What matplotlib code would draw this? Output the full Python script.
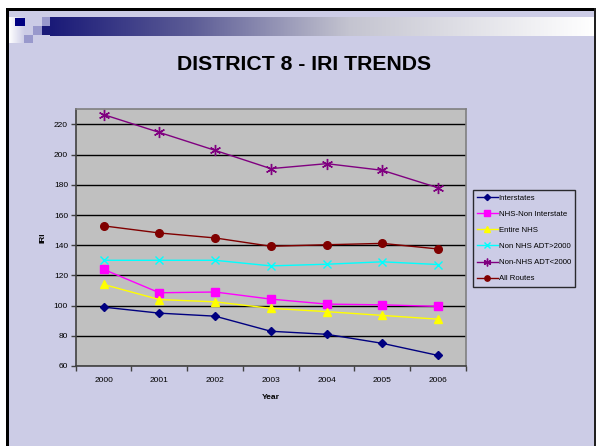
import numpy as np
import matplotlib
matplotlib.use("Agg")
import matplotlib.pyplot as plt
from matplotlib.patches import Rectangle

plt.rcParams['font.family'] = ['Liberation Sans', 'DejaVu Sans']

years = ["2000", "2001", "2002", "2003", "2004", "2005", "2006"]
interstates = [99, 95, 93, 83, 81, 75, 67]
nhs_non_interstate = [124, 108.5, 109, 104.3, 101, 100.5, 99.5]
entire_nhs = [114, 104, 102.5, 98.2, 96, 93.5, 91]
non_nhs_gt2000 = [130, 130, 130, 126.3, 127.4, 129, 127.2]
non_nhs_lt2000 = [226.5, 214.7, 202.8, 190.7, 194, 189.6, 178]
all_routes = [152.8, 148.1, 144.8, 139.3, 140.3, 141.2, 137.5]

series = [
    ("Interstates", interstates, "#000080", "D", 4.5),
    ("NHS-Non Interstate", nhs_non_interstate, "#FF00FF", "s", 5.5),
    ("Entire NHS", entire_nhs, "#FFFF00", "^", 6),
    ("Non NHS ADT>2000", non_nhs_gt2000, "#00FFFF", "x", 6),
    ("Non-NHS ADT<2000", non_nhs_lt2000, "#800080", (6, 2, 0), 8),
    ("All Routes", all_routes, "#800000", "o", 5.5),
]

W, H = 596, 446
bg = "#CCCCE6"
fig = plt.figure(figsize=(W / 100, H / 100), dpi=100, facecolor=bg)

def frect(x0, y0, x1, y1, color, z=1):
    fig.add_artist(Rectangle((x0 / W, 1 - y1 / H), (x1 - x0) / W, (y1 - y0) / H,
                             transform=fig.transFigure, facecolor=color,
                             edgecolor='none', zorder=z))

# white outside the slide frame
frect(0, 0, W, 8, "white")
frect(0, 0, 6, H, "white")
# slide border lines
frect(6, 8, W, 11, "black", 2)
frect(6, 8, 8.5, H, "black", 2)
frect(594, 8, W, H, "#202020", 2)

# header gradient bar
gax = fig.add_axes([50 / W, 1 - 36 / H, (W - 2 - 50) / W, 19 / H])
gax.axis('off')
c0 = np.array([0x1a, 0x1a, 0x78]) / 255
c1 = np.array([0x5c, 0x5c, 0x96]) / 255
c2 = np.array([0xc4, 0xc4, 0xd0]) / 255
c3 = np.array([1.0, 1.0, 1.0])
t = np.linspace(0, 1, 400)
stops = [0, 0.26, 0.55, 1.0]
cols = [c0, c1, c2, c3]
grad = np.stack([np.interp(t, stops, [c[i] for c in cols]) for i in range(3)], axis=-1)
gax.imshow(grad[None, :, :], aspect='auto', extent=[0, 1, 0, 1])
gax.set_xlim(0, 1); gax.set_ylim(0, 1)

# white fade at top left
wax = fig.add_axes([8.5 / W, 1 - 43 / H, 16 / W, 26 / H])
wax.axis('off')
cb = np.array([0xcc, 0xcc, 0xe6]) / 255
tw = np.linspace(0, 1, 50)
wg = np.stack([np.interp(tw, [0, 1], [1.0, cb[i]]) for i in range(3)], axis=-1)
wax.imshow(wg[None, :, :], aspect='auto', extent=[0, 1, 0, 1])

frect(42, 26, 50, 35, "#1a1a78", 3)
frect(15, 18, 25, 26, "#000080", 3)
frect(42, 17, 50, 26, "#9999CC", 3)
frect(33, 26, 42, 35, "#9999CC", 3)
frect(24, 35, 33, 43, "#9999CC", 3)

fig.text(304 / W, 1 - 65 / H, "DISTRICT 8 - IRI TRENDS", ha='center', va='center',
         fontsize=15.3, fontweight='bold', color='black')

ax = fig.add_axes([75.7 / W, 1 - 366 / H, (466 - 75.7) / W, (366 - 109.3) / H])
ax.set_facecolor("#C0C0C0")
x = np.arange(len(years))
handles = []
for name, vals, col, mk, ms in series:
    extra = {}
    if mk in ("x",) or isinstance(mk, tuple):
        extra = dict(markeredgewidth=1.0)
    h, = ax.plot(x, vals, color=col, marker=mk, markersize=ms, linewidth=1.0,
                 markerfacecolor=col, markeredgecolor=col, label=name, zorder=3, **extra)
    handles.append(h)

ax.set_xlim(-0.5, len(years) - 0.5)
ax.set_ylim(60, 230)
ax.set_yticks(np.arange(60, 221, 20))
ax.yaxis.grid(True, color='black', linewidth=1.0)
ax.set_axisbelow(True)
ax.set_xticks(x)
ax.set_xticklabels(years)
ax.set_xticks(np.arange(-0.5, len(years), 1.0), minor=True)
ax.tick_params(axis='x', which='major', length=0, labelsize=6, pad=8)
ax.tick_params(axis='x', which='minor', length=3.5, width=1, color='#404040', direction='out')
ax.tick_params(axis='y', length=3.5, width=1, color='#404040', labelsize=6, pad=2, direction='out')
for s in ['top', 'right']:
    ax.spines[s].set_color('#808080')
    ax.spines[s].set_linewidth(1.2)
for s in ['left', 'bottom']:
    ax.spines[s].set_color('#404040')
    ax.spines[s].set_linewidth(1.2)
ax.set_xlabel("Year", fontsize=6, fontweight='bold', labelpad=7)
ax.set_ylabel("IRI", fontsize=6, fontweight='bold', labelpad=5)

leg = fig.legend(handles=handles, loc='upper left',
                 bbox_to_anchor=(473 / W, 1 - 190 / H), fontsize=5.6,
                 frameon=True, fancybox=False, facecolor=bg, edgecolor='black',
                 handlelength=2.6, handletextpad=0.15, labelspacing=1.12,
                 borderpad=0.55, borderaxespad=0, markerscale=0.7)
leg.get_frame().set_linewidth(1.0)

fig.savefig("out.png", dpi=100, facecolor=bg)
